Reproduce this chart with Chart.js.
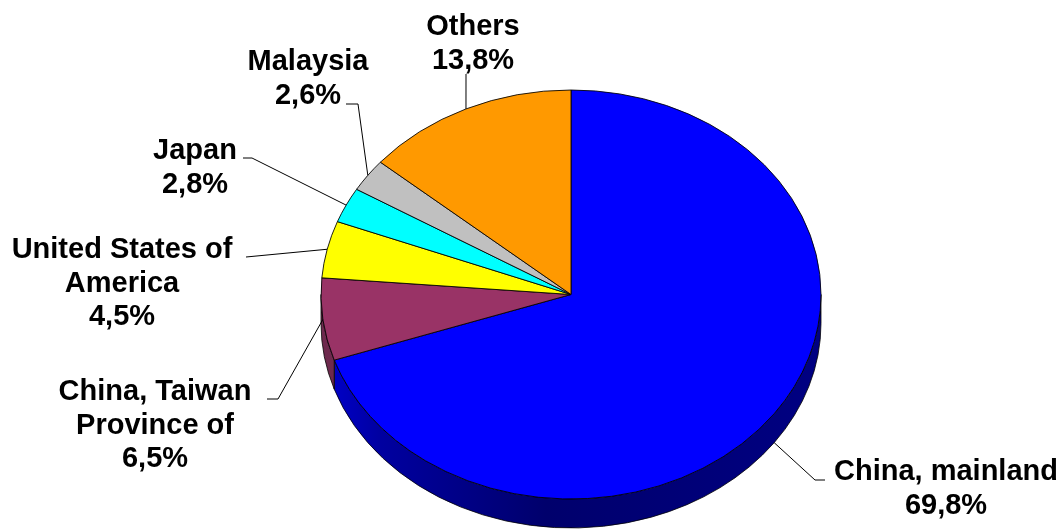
<!DOCTYPE html>
<html>
<head>
<meta charset="utf-8">
<script src="https://cdn.jsdelivr.net/npm/chart.js@4"></script>
<style>
  html, body { margin: 0; padding: 0; background: #fff; }
  canvas { display: block; }
</style>
</head>
<body>
<canvas id="pie" width="1063" height="529"></canvas>
<script>
// data
const categories = [
  ['China, mainland'],
  ['China, Taiwan', 'Province of'],
  ['United States of', 'America'],
  ['Japan'],
  ['Malaysia'],
  ['Others']
];
const shares = [69.8, 6.5, 4.5, 2.8, 2.6, 13.8];

const topColors = ['#0000ff', '#993366', '#ffff00', '#00ffff', '#c0c0c0', '#ff9900'];
const sideColors = ['#000080', '#6e2a4e', '#80801a', '#008080', '#808080', '#995c00'];

// ellipse of the tilted pie on screen
const CX = 571, CY = 294.5, RX = 250, RY = 204.5, DEPTH = 29;

// where each label sits and how the leader line bends
const labelLayout = [
  { x: 946, y: 480, drop: true,  bend: [[815, 480], [825, 480]] },
  { x: 155, y: 400, drop: false, bend: [[278, 399], [267, 399]] },
  { x: 122, y: 258, drop: false, bend: [[246, 257]] },
  { x: 195, y: 159, drop: false, bend: [[252, 158], [243, 158]] },
  { x: 308, y: 70,  drop: false, bend: [[358, 104], [346, 104]] },
  { x: 473, y: 35,  drop: false, bend: [[466, 74]] }
];
const LINE_H = 33.5;
const FONT = 'bold 29px "Liberation Sans", Arial, sans-serif';

function fmt(v) {
  return v.toFixed(1).replace('.', ',') + '%';
}

const pie3d = {
  id: 'pie3d',
  beforeDatasetsDraw(chart) {
    const ctx = chart.ctx;
    const meta = chart.getDatasetMeta(0);
    const first = meta.data[0];
    const r0 = first.outerRadius, cx0 = first.x, cy0 = first.y;
    const sx = RX / r0, sy = RY / r0;
    ctx.save();
    ctx.translate(CX, CY);
    ctx.scale(sx, sy);
    ctx.translate(-cx0, -cy0);

    // front wall of the pie
    const dd = DEPTH / sy;
    meta.data.forEach((arc, i) => {
      const a = Math.max(arc.startAngle, 0);
      const b = Math.min(arc.endAngle, Math.PI);
      if (a >= b) return;
      let fill = sideColors[i];
      if (i === 0) {
        fill = ctx.createLinearGradient(cx0 - r0, 0, cx0 + r0, 0);
        fill.addColorStop(0, '#0000d0');
        fill.addColorStop(0.12, '#0000a0');
        fill.addColorStop(0.45, '#00006c');
        fill.addColorStop(1, '#000082');
      }
      ctx.beginPath();
      ctx.arc(cx0, cy0, r0, a, b);
      ctx.arc(cx0, cy0 + dd, r0, b, a, true);
      ctx.closePath();
      ctx.fillStyle = fill;
      ctx.fill();
      ctx.lineWidth = 0.9;
      ctx.strokeStyle = '#000';
      ctx.stroke();
    });
  },
  afterDatasetsDraw(chart) {
    const ctx = chart.ctx;
    ctx.restore();
    const meta = chart.getDatasetMeta(0);

    ctx.save();
    ctx.strokeStyle = '#000';
    ctx.lineWidth = 1;
    meta.data.forEach((arc, i) => {
      const lay = labelLayout[i];
      const mid = (arc.startAngle + arc.endAngle) / 2;
      const ax = CX + RX * Math.cos(mid);
      const ay = CY + RY * Math.sin(mid) + (lay.drop ? DEPTH : 0);
      ctx.beginPath();
      ctx.moveTo(ax, ay);
      lay.bend.forEach(p => ctx.lineTo(p[0], p[1]));
      ctx.stroke();

      const lines = categories[i].concat([fmt(shares[i])]);
      ctx.font = FONT;
      ctx.fillStyle = '#000';
      ctx.textAlign = 'center';
      ctx.textBaseline = 'alphabetic';
      lines.forEach((t, k) => ctx.fillText(t, lay.x, lay.y + k * LINE_H));
    });
    ctx.restore();
  }
};

new Chart(document.getElementById('pie').getContext('2d'), {
  type: 'pie',
  data: {
    labels: categories,
    datasets: [{
      data: shares,
      backgroundColor: topColors,
      borderColor: '#000',
      borderWidth: 1
    }]
  },
  options: {
    responsive: false,
    animation: false,
    plugins: {
      legend: { display: false },
      tooltip: { enabled: false }
    }
  },
  plugins: [pie3d]
});
</script>
</body>
</html>
